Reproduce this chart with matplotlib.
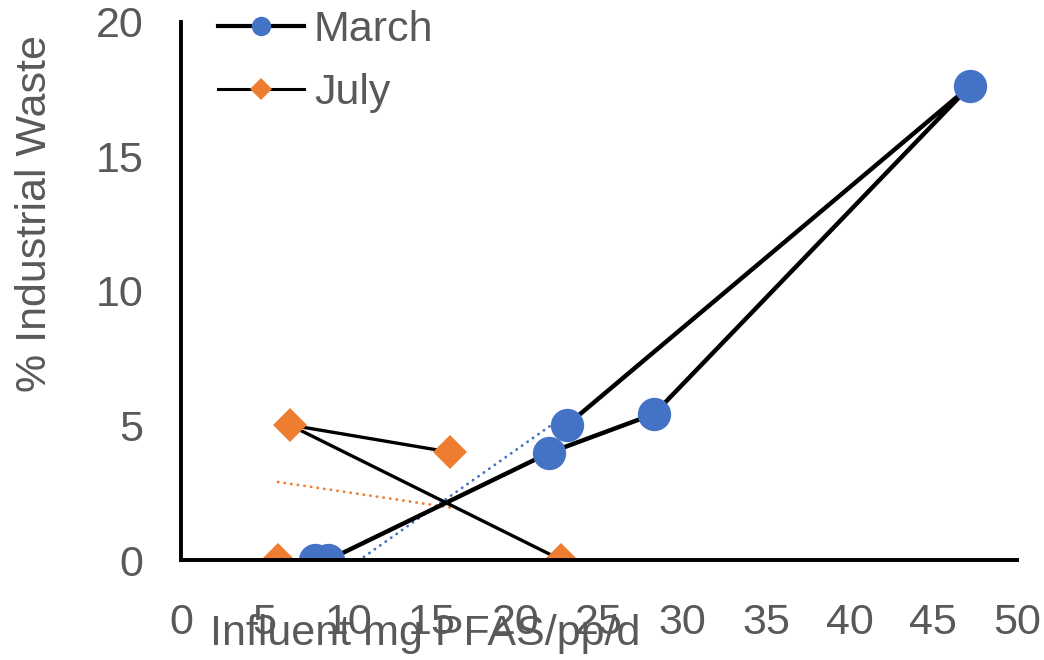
import matplotlib.pyplot as plt
from matplotlib.lines import Line2D
import numpy as np

plt.rcParams['font.family'] = ['Liberation Sans', 'DejaVu Sans']

# data (order = order the lines are drawn in)
march_x = [8.0, 8.8, 22.0, 28.3, 47.2, 23.1]
march_y = [0.0, 0.0, 3.98, 5.43, 17.62, 5.02]
july_x = [16.1, 6.5, 22.75, 5.8]
july_y = [4.01, 5.02, 0.0, 0.0]

# x span each trendline is drawn over
march_trend_span = [8.0, 23.1]
july_trend_span = [5.8, 16.1]

blue = '#4472C4'
orange = '#ED7D31'
grey = '#595959'
fs = 31

fig = plt.figure(figsize=(10.44, 6.6), dpi=100)
ax = fig.add_axes([0.1734, 0.1515, 0.8006, 0.8152])

ax.plot(march_x, march_y, color='black', lw=3.2, marker='o', ms=24,
        mfc=blue, mec=blue, mew=0, zorder=2)
ax.plot(july_x, july_y, color='black', lw=2.4, marker='D', ms=17,
        mfc=orange, mec=orange, mew=0, zorder=2)

# linear trendlines
m = np.polyfit(march_x, march_y, 1)
tx = np.array(march_trend_span)
ax.plot(tx, np.polyval(m, tx), color=blue, lw=2.0, ls=(0, (0.1, 2.3)),
        dash_capstyle='round', zorder=1.5)
j = np.polyfit(july_x, july_y, 1)
tx = np.array(july_trend_span)
ax.plot(tx, np.polyval(j, tx), color=orange, lw=2.0, ls=(0, (0.1, 2.3)),
        dash_capstyle='round', zorder=1.5)

ax.set_xlim(0, 50)
ax.set_ylim(0, 20)
ax.set_xticks(np.arange(0, 51, 5))
ax.set_yticks(np.arange(0, 21, 5))
ax.tick_params(length=0, labelsize=fs, labelcolor=grey)
ax.tick_params(axis='x', pad=31)
ax.tick_params(axis='y', pad=27)
for s in ['top', 'right']:
    ax.spines[s].set_visible(False)
for s in ['left', 'bottom']:
    ax.spines[s].set_linewidth(2.8)
    ax.spines[s].set_color('black')
    ax.spines[s].set_zorder(3)

fig.text(0.407, 0.0227, 'Influent mg PFAS/pp/d', ha='center', va='baseline',
         fontsize=fs, color=grey)
fig.text(0.034, 0.677, '% Industrial Waste', ha='center', va='center',
         rotation=90, fontsize=fs, color=grey)

handles = [Line2D([], [], color='black', lw=3.0, marker='o', ms=14,
                  mfc=blue, mec=blue, mew=0),
           Line2D([], [], color='black', lw=2.2, marker='D', ms=11,
                  mfc=orange, mec=orange, mew=0)]
leg = fig.legend(handles, ['March', 'July'], loc='upper left',
                 bbox_to_anchor=(0.205, 0.992), frameon=False, fontsize=fs,
                 handlelength=2.0, handletextpad=0.22, labelspacing=0.55,
                 borderpad=0.1, borderaxespad=0)
for t in leg.get_texts():
    t.set_color(grey)

fig.savefig('out.png', dpi=100)
